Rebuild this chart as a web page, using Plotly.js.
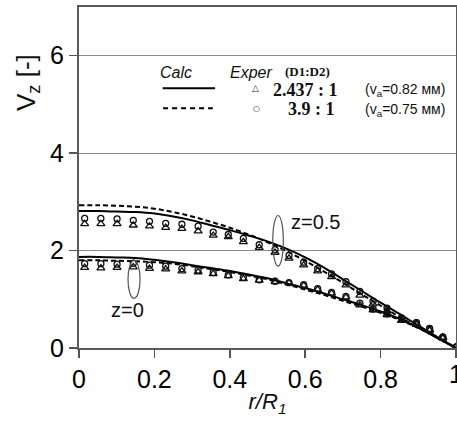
<!DOCTYPE html>
<html>
<head>
<meta charset="utf-8">
<script src="https://cdn.plot.ly/plotly-3.0.1.min.js"></script>
<style>html,body{margin:0;padding:0;background:#fff;}</style>
</head>
<body>
<div id="chart" style="width:457px;height:421px;"></div>
<script>
// ---- Calculated profiles (r/R1 grid) ----
const calcR = [0,0.05,0.1,0.15,0.2,0.25,0.3,0.35,0.4,0.45,0.5,0.55,0.6,0.65,0.7,0.75,0.8,0.85,0.9,0.95,1.0];
const calcZ05_2437 = [2.81,2.81,2.80,2.79,2.76,2.70,2.62,2.52,2.42,2.31,2.19,2.04,1.86,1.65,1.41,1.17,0.93,0.70,0.46,0.23,0.0];
const calcZ05_39   = [2.93,2.93,2.92,2.90,2.86,2.79,2.70,2.59,2.47,2.33,2.17,1.99,1.79,1.57,1.34,1.10,0.87,0.64,0.42,0.21,0.0];
const calcZ0_2437  = [1.87,1.87,1.86,1.85,1.81,1.76,1.70,1.64,1.58,1.51,1.43,1.33,1.23,1.12,1.00,0.88,0.75,0.60,0.42,0.21,0.0];
const calcZ0_39    = [1.80,1.80,1.79,1.78,1.76,1.73,1.68,1.62,1.56,1.49,1.41,1.31,1.20,1.09,0.97,0.85,0.72,0.58,0.41,0.21,0.0];

// ---- Experimental points ----
const expR = [0.015,0.058,0.101,0.144,0.187,0.23,0.273,0.316,0.356,0.396,0.436,0.478,0.52,0.557,0.596,0.633,0.67,0.708,0.745,0.78,0.817,0.856,0.895,0.93,0.965,1.0];
const expZ05_2437 = [2.55,2.55,2.55,2.52,2.50,2.47,2.45,2.40,2.31,2.28,2.18,2.06,1.96,1.84,1.70,1.58,1.46,1.29,1.08,0.90,0.76,0.56,0.48,0.36,0.20,0.02];
const expZ05_39   = [2.66,2.66,2.65,2.62,2.60,2.56,2.54,2.50,2.38,2.33,2.25,2.12,2.02,1.90,1.76,1.63,1.52,1.36,1.16,0.96,0.82,0.62,0.52,0.40,0.22,0.02];
const expZ0_2437  = [1.65,1.64,1.65,1.66,1.63,1.62,1.58,1.56,1.52,1.48,1.42,1.39,1.36,1.33,1.28,1.20,1.12,1.04,0.88,0.78,0.68,0.57,0.50,0.37,0.22,0.02];
const expZ0_39    = [1.73,1.73,1.72,1.74,1.70,1.68,1.63,1.60,1.55,1.50,1.45,1.40,1.37,1.34,1.30,1.22,1.14,1.06,0.92,0.80,0.70,0.59,0.52,0.39,0.23,0.02];

// ---- Axis ticks ----
const xTickVals = [0,0.2,0.4,0.6,0.8];
const xTickText = ["0","0.2","0.4","0.6","0.8"];
const xLastTick = 1;
const xLastText = "1";
const yTickVals = [0,2,4,6];
const yTickText = ["0","2","4","6"];

const solid = {color:'#000', width:2, shape:'spline'};
const dashed = {color:'#000', width:2, dash:'5px,3px', shape:'spline'};
const triM = {symbol:'triangle-up-open', size:7, color:'#111', line:{width:1.3,color:'#111'}};
const cirM = {symbol:'circle-open', size:6, color:'#111', line:{width:1.3,color:'#111'}};

const traces = [
  {x:calcR, y:calcZ05_39, mode:'lines', line:dashed, hoverinfo:'skip'},
  {x:calcR, y:calcZ05_2437, mode:'lines', line:solid, hoverinfo:'skip'},
  {x:calcR, y:calcZ0_39, mode:'lines', line:dashed, hoverinfo:'skip'},
  {x:calcR, y:calcZ0_2437, mode:'lines', line:solid, hoverinfo:'skip'},
  {x:expR, y:expZ05_2437, mode:'markers', marker:triM},
  {x:expR, y:expZ05_39, mode:'markers', marker:cirM},
  {x:expR, y:expZ0_2437, mode:'markers', marker:triM},
  {x:expR, y:expZ0_39, mode:'markers', marker:cirM}
];

const ff = 'Liberation Sans, Arial, sans-serif';
const serif = 'Liberation Serif, Times New Roman, serif';

function ann(x, y, text, font, xanchor) {
  return {xref:'paper', yref:'paper', x:x, y:y, text:text, showarrow:false,
          xanchor:xanchor || 'center', yanchor:'middle', font:font};
}

const layout = {
  width:457, height:421,
  margin:{l:79, r:1, t:7, b:73},
  paper_bgcolor:'#fff', plot_bgcolor:'#fff',
  showlegend:false,
  xaxis:{
    range:[0,1], tickvals:xTickVals.concat([xLastTick]), ticktext:xTickText.concat([""]),
    ticks:'outside', ticklen:8, tickwidth:1.5, tickcolor:'#555',
    showline:true, linecolor:'#5a5a5a', linewidth:2, mirror:true,
    showgrid:false, zeroline:false,
    tickfont:{family:ff, size:25, color:'#000'},
    title:{text:'<i>r/R<sub>1</sub></i>', font:{family:ff, size:22, color:'#111'}, standoff:2}
  },
  yaxis:{
    range:[0,7], tickvals:yTickVals, ticktext:yTickText,
    ticks:'outside', ticklen:8, tickwidth:1.5, tickcolor:'#555',
    showline:true, linecolor:'#5a5a5a', linewidth:2, mirror:true,
    showgrid:true, gridcolor:'#8a8a8a', gridwidth:1.2, zeroline:false,
    tickfont:{family:ff, size:25, color:'#000'}
  },
  annotations:[
    {xref:'x', yref:'paper', x:xLastTick, y:-0.028, text:xLastText, showarrow:false, xanchor:'center', yanchor:'top',
     font:{family:ff, size:25, color:'#000'}},
    {xref:'paper', yref:'paper', x:-0.138, y:0.78, text:'V<sub>z</sub> [-]', textangle:-90, showarrow:false,
     font:{family:ff, size:26, color:'#111'}, xanchor:'center', yanchor:'middle'},
    {xref:'x', yref:'y', x:0.626, y:2.58, text:'z=0.5', showarrow:false, xanchor:'center', yanchor:'middle', font:{family:ff, size:20, color:'#111'}},
    {xref:'x', yref:'y', x:0.129, y:0.78, text:'z=0', showarrow:false, xanchor:'center', yanchor:'middle', font:{family:ff, size:20, color:'#111'}},
    // legend
    ann(0.257, 0.808, '<i>Calc</i>', {family:ff, size:16, color:'#111'}),
    ann(0.395, 0.808, '<i>Exper</i>', {family:ff, size:16, color:'#111'}, 'left'),
    ann(0.541, 0.812, '<b>(D1:D2)</b>', {family:serif, size:13, color:'#111'}, 'left'),
    ann(0.467, 0.7616, '△', {family:'DejaVu Sans', size:9, color:'#222'}),
    ann(0.4695, 0.703, '○', {family:'DejaVu Sans', size:8, color:'#222'}),
    ann(0.510, 0.758, '<b>2.437 : 1</b>', {family:serif, size:18, color:'#111'}, 'left'),
    ann(0.548, 0.701, '<b>3.9 : 1</b>', {family:serif, size:18, color:'#111'}, 'left'),
    ann(0.975, 0.756, '(v<sub>a</sub>=0.82 мм)', {family:ff, size:14, color:'#111'}, 'right'),
    ann(0.975, 0.699, '(v<sub>a</sub>=0.75 мм)', {family:ff, size:14, color:'#111'}, 'right')
  ],
  shapes:[
    {type:'line', xref:'paper', yref:'paper', x0:0.222, x1:0.361, y0:0.7616, y1:0.7616, line:{color:'#000', width:2}},
    {type:'line', xref:'paper', yref:'paper', x0:0.223, x1:0.355, y0:0.703, y1:0.703, line:{color:'#000', width:2, dash:'5px,4px'}},
    {type:'circle', xref:'x', yref:'y', x0:0.514, x1:0.542, y0:1.68, y1:2.72, line:{color:'#555', width:1.2}},
    {type:'circle', xref:'x', yref:'y', x0:0.130, x1:0.162, y0:1.02, y1:1.80, line:{color:'#555', width:1.2}}
  ]
};

Plotly.newPlot('chart', traces, layout, {staticPlot:true, displayModeBar:false});
</script>
</body>
</html>
